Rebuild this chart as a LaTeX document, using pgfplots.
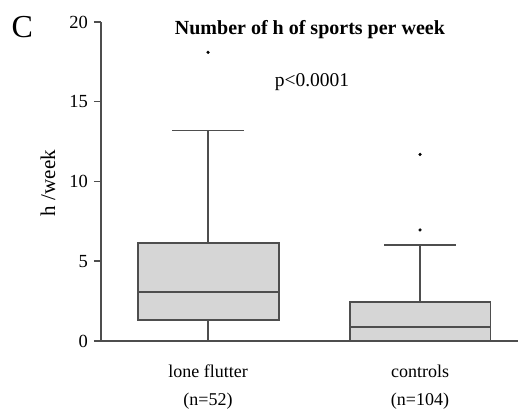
\documentclass[border=0pt]{standalone}
\usepackage{fontspec}
\setmainfont{Liberation Serif}
\usepackage{pgfplots}
\pgfplotsset{compat=1.18}
\usepgfplotslibrary{statistics}
\definecolor{boxfill}{RGB}{214,214,214}
\definecolor{boxline}{RGB}{78,78,78}
\begin{document}
\fontsize{18}{21}\selectfont
\begin{tikzpicture}
\path[use as bounding box] (0,0) rectangle (519pt,409pt);
\begin{axis}[
  at={(101pt,68pt)}, anchor=south west,
  scale only axis,
  width=417pt, height=319pt,
  xmin=0.495, xmax=2.462,
  ymin=0, ymax=20,
  axis lines*=left,
  axis line style={boxline, line width=1.7pt},
  ytick={0,5,10,15,20},
  tick align=outside,
  major tick length=7pt,
  ytick style={boxline, line width=1.5pt},
  xtick={1,2},
  xticklabels={{lone flutter\\(n=52)},{controls\\(n=104)}},
  xtick style={draw=none},
  xticklabel style={align=center, yshift=-11pt, font=\fontsize{18}{28}\selectfont},
  yticklabel style={font=\fontsize{18.5}{21}\selectfont},
  /pgf/number format/assume math mode=true,
  ylabel={h /week},
  ylabel style={at={(axis description cs:-0.127,0.495)}, anchor=center, font=\fontsize{21}{24}\selectfont},
  clip=false,
  boxplot/draw direction=y,
  boxplot/every median/.style={line width=1.9pt},
  boxplot/every box/.style={line width=1.9pt},
  boxplot/every whisker/.style={line width=1.9pt},
]
\addplot[draw=boxline, fill=boxfill, line width=1.9pt,
  boxplot prepared={median=3.1, upper quartile=6.15, lower quartile=1.3,
    upper whisker=13.2, lower whisker=0, draw position=1,
    box extend=0.665, whisker extend=0.34}] coordinates {};
\addplot[draw=boxline, fill=boxfill, line width=1.9pt,
  boxplot prepared={median=0.88, upper quartile=2.45, lower quartile=0,
    upper whisker=6.0, lower whisker=0, draw position=2,
    box extend=0.665, whisker extend=0.34}] coordinates {};
\addplot[only marks, mark=*, mark size=1.4pt, black] coordinates {(1,18.1) (2,11.7) (2,6.96)};
\node[font=\bfseries\fontsize{20}{23}\selectfont] at (axis description cs:0.501,0.975) {Number of h of sports per week};
\node[font=\fontsize{19.5}{22}\selectfont] at (axis description cs:0.506,0.812) {p<0.0001};
\node[font=\fontsize{32}{36}\selectfont] at (axis description cs:-0.189,0.984) {C};
\end{axis}
\end{tikzpicture}
\end{document}
